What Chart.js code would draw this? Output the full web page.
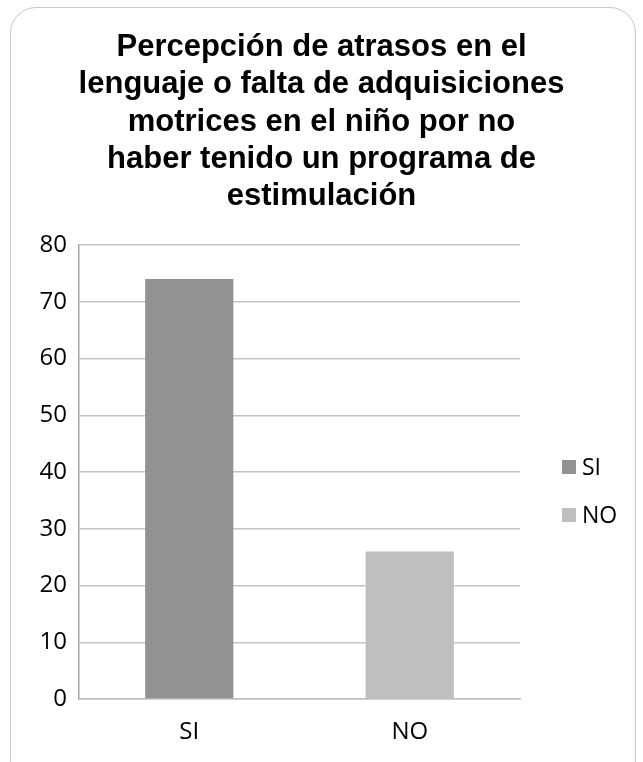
<!DOCTYPE html>
<html>
<head>
<meta charset="utf-8">
<script src="https://cdn.jsdelivr.net/npm/chart.js@4.4.1/dist/chart.umd.min.js"></script>
<style>
  body { margin: 0; background: #fff; }
  #wrap { position: relative; width: 643px; height: 762px; overflow: hidden; }
  #frame {
    position: absolute; left: 10px; top: 7px; width: 626px; height: 780px;
    border: 1.5px solid #c8c8c8; border-radius: 26px; box-sizing: border-box;
  }
  #chart { position: absolute; left: 0; top: 0; }
</style>
</head>
<body>
<div id="wrap">
  <div id="frame"></div>
  <canvas id="chart" width="643" height="762"></canvas>
</div>
<script>
const categories = ["SI", "NO"];
const values = [74, 26];
const barColors = ["#929292", "#bfbfbf"];
const yTicks = [0, 10, 20, 30, 40, 50, 60, 70, 80];

const titleLines = [
  "Percepción de atrasos en el",
  "lenguaje o falta de adquisiciones",
  "motrices en el niño por no",
  "haber tenido un programa de",
  "estimulación",
];

const tickFont = { family: "'Open Sans', sans-serif", size: 24 };

// legend on the right: a small square per category next to its name
const sideLegend = {
  id: "sideLegend",
  afterDraw(chart) {
    const { ctx, chartArea } = chart;
    const x = chartArea.right + 42;
    const mid = (chartArea.top + chartArea.bottom) / 2 + 19;
    ctx.save();
    ctx.font = "23px 'Open Sans', sans-serif";
    ctx.textBaseline = "middle";
    chart.data.labels.forEach((name, i) => {
      const cy = mid + (i - 0.5) * 48;
      ctx.fillStyle = barColors[i];
      ctx.fillRect(x, cy - 7, 14, 14);
      ctx.fillStyle = "#000";
      ctx.fillText(name, x + 20, cy + 1);
    });
    ctx.restore();
  },
};

new Chart(document.getElementById("chart"), {
  type: "bar",
  data: {
    labels: categories,
    datasets: [
      {
        data: values,
        backgroundColor: barColors,
        barPercentage: 0.4,
        categoryPercentage: 1,
      },
    ],
  },
  options: {
    responsive: false,
    animation: false,
    layout: { padding: 0 },
    plugins: {
      title: {
        display: true,
        text: titleLines,
        color: "#000",
        font: { family: "'Liberation Sans', Arial, sans-serif", size: 31, weight: "bold", lineHeight: 1.2 },
        padding: { top: 29, bottom: 30 },
      },
      legend: { display: false },
      tooltip: { enabled: false },
    },
    scales: {
      x: {
        grid: { display: false, drawTicks: false },
        border: { color: "#bfbfbf", width: 1.5 },
        ticks: { color: "#000", font: tickFont, padding: 19 },
        afterFit: (scale) => {
          scale.height = 63;
        },
      },
      y: {
        min: 0,
        max: 80,
        afterBuildTicks: (axis) => {
          axis.ticks = yTicks.map((v) => ({ value: v }));
        },
        grid: { color: "#c4c4c4", lineWidth: 1.5, drawTicks: false },
        border: { color: "#a6a6a6", width: 1.5 },
        ticks: { color: "#000", font: tickFont, padding: 12 },
        afterFit: (scale) => {
          scale.width = 79;
        },
      },
      // empty axis that keeps room free for the legend
      legendSpace: {
        type: "linear",
        position: "right",
        grid: { display: false, drawTicks: false },
        border: { display: false },
        ticks: { display: false },
        afterFit: (scale) => {
          scale.width = 123;
        },
      },
    },
  },
  plugins: [sideLegend],
});
</script>
</body>
</html>
